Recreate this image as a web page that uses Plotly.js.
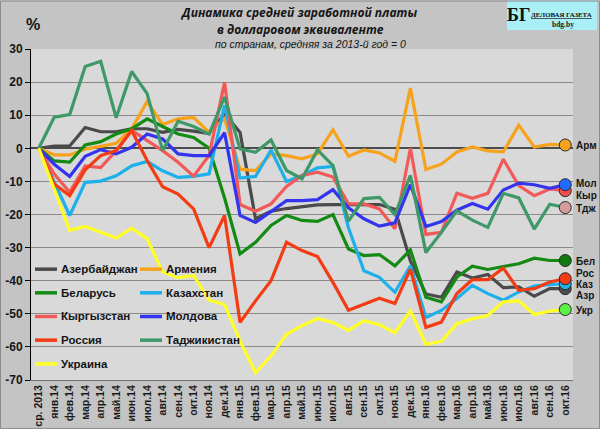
<!DOCTYPE html>
<html>
<head>
<meta charset="utf-8">
<script src="https://cdn.plot.ly/plotly-3.0.1.min.js"></script>
<style>
html,body{margin:0;padding:0;background:#c4c4c4;}
#chart{width:600px;height:429px;}
</style>
</head>
<body>
<div id="chart"></div>
<script>
// ---------- DATA ----------
const categories = ["ср. 2013","янв.14","фев.14","мар.14","апр.14","май.14","июн.14","июл.14","авг.14","сен.14","окт.14","ноя.14","дек.14","янв.15","фев.15","мар.15","апр.15","май.15","июн.15","июл.15","авг.15","сен.15","окт.15","ноя.15","дек.15","янв.16","фев.16","мар.16","апр.16","май.16","июн.16","июл.16","авг.16","сен.16","окт.16"];

const azerbaijan = [0, 0.7, 0.7, 6.3, 5, 5, 5.9, 5.9, 4.8, 5.7, 5.2, 4.5, 10.4, 4.8, -21.3, -19, -18.2, -17.7, -17.1, -17, -17, -17, -17, -18.4, -34, -44, -45, -37.4, -39.2, -38.1, -42.1, -41.9, -44.7, -42.4, -42.4];
const armenia    = [0, -2, -2, -0.2, 0.6, 1.5, 5.9, 14.1, 7.2, 8.9, 9.3, 4.8, 9, -6.3, -6.7, -1.7, -2.2, -3.2, -1.7, 5.6, -2.4, -0.5, -1.4, -3.9, 18.2, -6.4, -4.8, -1.1, 0.4, -0.8, -1.1, 7, 0.4, 1.2, 1];
const belarus    = [0, -3.8, -4.2, 1, 2, 4.3, 5.9, 8.9, 6.6, 4.3, 3.3, 0, -15, -31.9, -28.4, -23.3, -20.3, -21.8, -22.1, -20, -30.4, -32.4, -32.1, -35.5, -30.7, -45, -46.4, -38.9, -35.6, -36.6, -35.7, -34.9, -33.2, -33.9, -33.9];
const kazakhstan = [0, -10, -20.3, -10.3, -9.9, -8.3, -5.3, -4, -6.8, -8.8, -8.5, -7.7, 13, -9, -8.5, -0.5, -10, -8.2, -5.9, -5.5, -24, -37, -39, -43.5, -35.5, -51.1, -49, -45.4, -41.4, -43.9, -45.9, -43.4, -41.6, -41.2, -40.9];
const kyrgyzstan = [0, -7.8, -13.3, -5.3, -5.8, -0.7, 5.4, 2.3, -0.7, -4.2, -8.4, -2.2, 20, -17, -19, -16.8, -11.5, -8.2, -7.2, -8.7, -16.8, -16.8, -18.3, -24.3, 0, -26, -25.4, -13.6, -15.1, -13.6, -3.3, -11.3, -14.3, -12.3, -12.8];
const moldova    = [0, -4.8, -8.5, -2.4, -0.4, -1.7, 0.3, 4.3, 2.8, -1.7, -2.2, -2.2, 4.7, -20.3, -22.4, -19, -15.8, -15.8, -15.5, -12.5, -18, -21.3, -23.5, -22.5, -11, -23.6, -22.1, -18.7, -16.7, -18.4, -12.6, -10.5, -11, -12.1, -11];
const russia     = [0, -10.8, -14.3, -6.5, -2.2, -0.7, 5.4, -3.7, -11.6, -13.8, -18.3, -30, -20.3, -52.6, -46.1, -40, -28.4, -30.9, -32.7, -40.5, -48.9, -47.1, -45.3, -46.9, -36.5, -54.1, -52.5, -43.9, -39.7, -39.7, -36.2, -42.9, -42.4, -40.4, -39.4];
const tajikistan = [0, 9.4, 10.2, 24.7, 26.3, 9.2, 23.2, 16.5, -0.7, 8.2, 6.6, 4.3, 15.5, -0.2, -1.2, 2.5, -6.7, -9.2, -0.5, -5.2, -22, -15.2, -14.8, -20, -8.2, -31.5, -25.4, -18.9, -21.7, -23.9, -13.6, -15, -24.4, -16.9, -17.9];
const ukraine    = [0, -12.5, -24.8, -23.6, -25.3, -27.1, -24.1, -27.3, -37.4, -39.1, -38.4, -45.9, -47.2, -58.2, -67.8, -62.7, -56.2, -53.6, -51.4, -52.6, -55, -52.1, -53.3, -55.7, -49.1, -59.2, -58.3, -53, -51.5, -50.5, -46.4, -46.1, -50.2, -49.2, -48.7];

const seriesNames  = ["Азербайджан","Армения","Беларусь","Казахстан","Кыргызстан","Молдова","Россия","Таджикистан","Украина"];
const shortNames   = ["Азр","Арм","Бел","Каз","Кыр","Мол","Рос","Тдж","Укр"];
const seriesValues = [azerbaijan, armenia, belarus, kazakhstan, kyrgyzstan, moldova, russia, tajikistan, ukraine];

const yTickValues = [30, 20, 10, 0, -10, -20, -30, -40, -50, -60, -70];
const yTickLabels = ["30", "20", "10", "0", "-10", "-20", "-30", "-40", "-50", "-60", "-70"];

const titleLines = ["Динамика средней заработной платы", "в долларовом эквиваленте", "по странам, средняя за 2013-й год = 0"];

// ---------- STYLE ----------
const lineColors   = ["#4a4a4a","#f7a21b","#138a13","#1eb0ea","#f25a5a","#3434ee","#f23c14","#3e9868","#ffff26"];
const markerColors = ["#4d4d4d","#f7a21b","#0f7a0f","#1eb4eb","#f44c4c","#1f6aff","#f23c18","#d59c9c","#5cf048"];
const labelShift   = [-2.2, -0.3, -0.3, -0.2, -1.6, 0.4, 1.7, -0.3, -0.3];

const PL = 31, PR = 573, PT = 48.5, PB = 380;
function px(x){ return (x - PL) / (PR - PL); }
function py(y){ return (PB - y) / (PB - PT); }

const BOLD = {family: "Liberation Sans, Arial, sans-serif", weight: "bold", color: "#151515"};

const traces = seriesValues.map((vals, i) => ({
  type: "scatter", mode: "lines", name: seriesNames[i],
  x: categories, y: vals,
  line: {color: lineColors[i], width: 3.2},
  hoverinfo: "skip", showlegend: false
}));

const lastIdx = categories.length - 1;
traces.push({
  type: "scatter", mode: "markers",
  x: seriesValues.map(() => categories[lastIdx]),
  y: seriesValues.map(v => v[lastIdx]),
  marker: {size: 12, color: markerColors, line: {color: "#2a2a2a", width: 1}},
  cliponaxis: false, hoverinfo: "skip", showlegend: false
});

const annotations = [];
const shapes = [];

// end labels
seriesValues.forEach((v, i) => {
  annotations.push({
    xref: "x", yref: "y", x: categories[lastIdx], y: v[lastIdx] + labelShift[i],
    xshift: 10, xanchor: "left", yanchor: "middle", showarrow: false, borderpad: 0,
    text: shortNames[i], font: Object.assign({}, BOLD, {size: 10})
  });
});

// legend (two columns, row-major)
seriesNames.forEach((n, i) => {
  const row = Math.floor(i / 2), col = i % 2;
  const ry = 269 + 23.7 * row;
  const lx = col === 0 ? 35 : 140;
  shapes.push({type: "line", xref: "paper", yref: "paper",
    x0: px(lx), x1: px(lx + 22), y0: py(ry), y1: py(ry),
    line: {color: lineColors[i], width: 3.5}});
  annotations.push({xref: "paper", yref: "paper", x: px(lx + 23.5), y: py(ry),
    xanchor: "left", yanchor: "middle", showarrow: false, text: n,
    font: Object.assign({}, BOLD, {size: 11.5})});
});

// titles
annotations.push({xref:"paper", yref:"paper", x:px(298), y:py(12), xanchor:"center", yanchor:"middle", showarrow:false,
  text: titleLines[0], font:{family:"Open Sans, sans-serif", size:12, weight:"bold", style:"italic", color:"#151515"}});
annotations.push({xref:"paper", yref:"paper", x:px(300), y:py(28.5), xanchor:"center", yanchor:"middle", showarrow:false,
  text: titleLines[1], font:{family:"Open Sans, sans-serif", size:12, weight:"bold", style:"italic", color:"#151515"}});
annotations.push({xref:"paper", yref:"paper", x:px(310), y:py(43), xanchor:"center", yanchor:"middle", showarrow:false,
  text: titleLines[2], font:{family:"Liberation Sans, sans-serif", size:10.5, style:"italic", color:"#151515"}});
annotations.push({xref:"paper", yref:"paper", x:px(33), y:py(24), xanchor:"center", yanchor:"middle", showarrow:false,
  text: "%", font: Object.assign({}, BOLD, {size: 16})});

// logo
shapes.push({type:"rect", xref:"paper", yref:"paper", x0:px(507), x1:px(597), y0:py(0), y1:py(29.5),
  fillcolor:"#aaeef6", line:{width:0}, layer:"below"});
annotations.push({xref:"paper", yref:"paper", x:px(518.5), y:py(14), xanchor:"center", yanchor:"middle", showarrow:false,
  text:"БГ", font:{family:"Liberation Serif, serif", size:18, weight:"bold", color:"#111"}});
annotations.push({xref:"paper", yref:"paper", x:px(530), y:py(14), xanchor:"left", yanchor:"middle", showarrow:false, borderpad:0,
  text:"<u>ДЕЛОВАЯ ГАЗЕТА</u>", font:{family:"Liberation Serif, serif", size:6.8, weight:"bold", color:"#111"}});
annotations.push({xref:"paper", yref:"paper", x:px(563), y:py(24), xanchor:"center", yanchor:"middle", showarrow:false,
  text:"bdg.by", font:{family:"Liberation Serif, serif", size:7.5, weight:"bold", color:"#222"}});

// outer border
shapes.push({type:"rect", xref:"paper", yref:"paper", x0:px(0.5), x1:px(599.5), y0:py(0.5), y1:py(428.5),
  line:{color:"#8c8c8c", width:1}, fillcolor:"rgba(0,0,0,0)"});

const layout = {
  width: 600, height: 429,
  margin: {l: PL, r: 600 - PR, t: PT, b: 429 - PB, pad: 0},
  paper_bgcolor: "#c4c4c4", plot_bgcolor: "#d9d9d9",
  showlegend: false,
  xaxis: {
    type: "category", range: [-0.5, categories.length - 0.5],
    tickangle: -90, tickfont: Object.assign({}, BOLD, {size: 10.5, color: "#1a1a1a"}),
    showgrid: false, zeroline: false, showline: true, linecolor: "#6e6e6e", linewidth: 1,
    ticks: "", fixedrange: true
  },
  yaxis: {
    range: [-70, 30], tickmode: "array", tickvals: yTickValues, ticktext: yTickLabels,
    showgrid: true, gridcolor: "#8a8a8a", gridwidth: 1,
    zeroline: true, zerolinecolor: "#4d4d4d", zerolinewidth: 2,
    showline: true, linecolor: "#000", linewidth: 1,
    ticks: "outside", ticklen: 5, tickcolor: "#000",
    tickfont: Object.assign({}, BOLD, {size: 12}), fixedrange: true
  },
  annotations: annotations,
  shapes: shapes
};

Plotly.newPlot("chart", traces, layout, {displayModeBar: false, staticPlot: true});
</script>
</body>
</html>
